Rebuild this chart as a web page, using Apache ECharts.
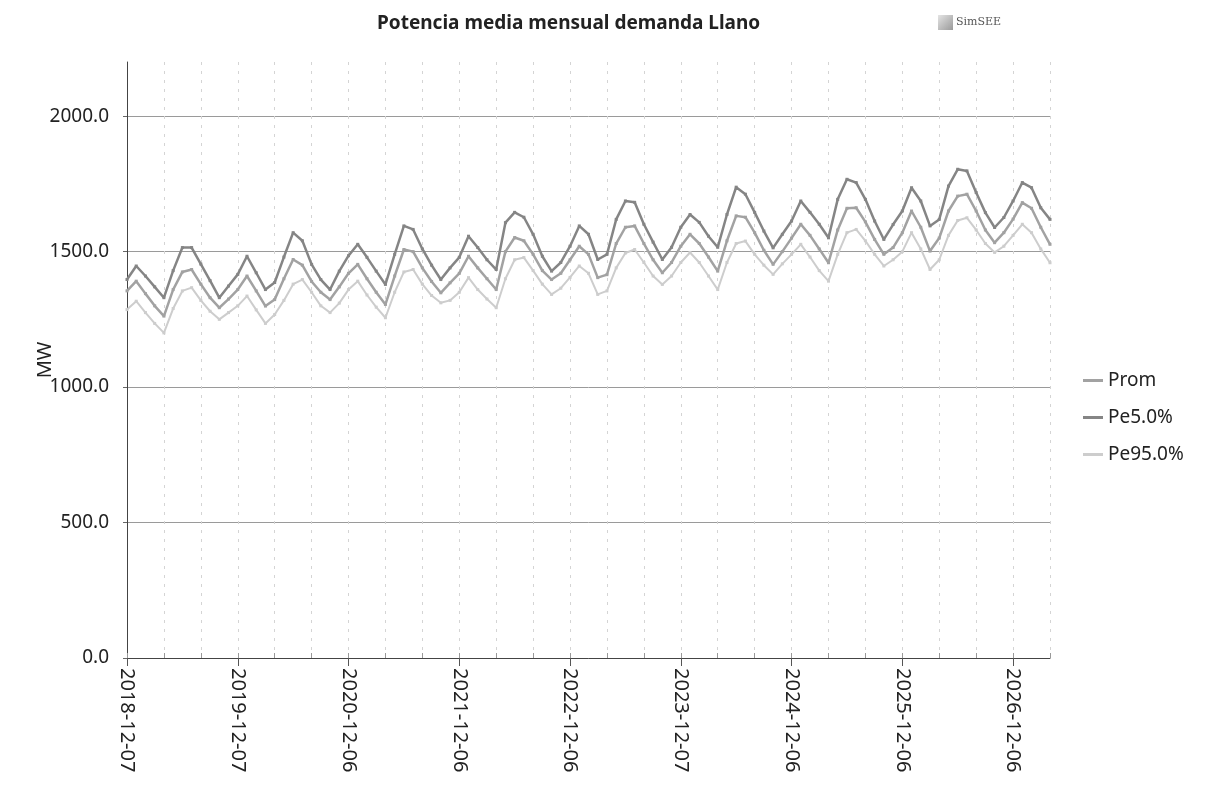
<!DOCTYPE html>
<html>
<head>
<meta charset="utf-8">
<title>Potencia media mensual demanda Llano</title>
<script src="https://cdn.jsdelivr.net/npm/echarts@6/dist/echarts.min.js"></script>
<style>
    html, body { margin: 0; padding: 0; background: #fff; }
    #chartBox { width: 1213px; height: 792px; }
</style>
</head>
<body>
<div id="chartBox"></div>
<script>
// fechas mensuales (eje x)
const fechas = [
    '2018-12-07','2019-01-07','2019-02-07','2019-03-07','2019-04-07','2019-05-07','2019-06-07','2019-07-07','2019-08-07','2019-09-07','2019-10-07','2019-11-07',
    '2019-12-07','2020-01-06','2020-02-06','2020-03-06','2020-04-06','2020-05-06','2020-06-06','2020-07-06','2020-08-06','2020-09-06','2020-10-06','2020-11-06',
    '2020-12-06','2021-01-06','2021-02-06','2021-03-06','2021-04-06','2021-05-06','2021-06-06','2021-07-06','2021-08-06','2021-09-06','2021-10-06','2021-11-06',
    '2021-12-06','2022-01-06','2022-02-06','2022-03-06','2022-04-06','2022-05-06','2022-06-06','2022-07-06','2022-08-06','2022-09-06','2022-10-06','2022-11-06',
    '2022-12-06','2023-01-07','2023-02-07','2023-03-07','2023-04-07','2023-05-07','2023-06-07','2023-07-07','2023-08-07','2023-09-07','2023-10-07','2023-11-07',
    '2023-12-07','2024-01-06','2024-02-06','2024-03-06','2024-04-06','2024-05-06','2024-06-06','2024-07-06','2024-08-06','2024-09-06','2024-10-06','2024-11-06',
    '2024-12-06','2025-01-06','2025-02-06','2025-03-06','2025-04-06','2025-05-06','2025-06-06','2025-07-06','2025-08-06','2025-09-06','2025-10-06','2025-11-06',
    '2025-12-06','2026-01-06','2026-02-06','2026-03-06','2026-04-06','2026-05-06','2026-06-06','2026-07-06','2026-08-06','2026-09-06','2026-10-06','2026-11-06',
    '2026-12-06','2027-01-06','2027-02-06','2027-03-06','2027-04-06'
];

// MW
const prom = [
    1355,1391,1345,1300,1262,1360,1425,1434,1380,1330,1293,1325,
    1360,1410,1355,1299,1323,1400,1471,1450,1390,1350,1323,1370,
    1420,1453,1400,1350,1305,1410,1508,1500,1440,1390,1348,1385,
    1420,1483,1440,1400,1360,1500,1552,1540,1490,1430,1397,1420,
    1470,1520,1490,1404,1415,1530,1590,1595,1530,1470,1422,1460,
    1520,1564,1530,1480,1428,1540,1632,1627,1570,1505,1453,1500,
    1550,1601,1560,1510,1459,1580,1660,1662,1610,1545,1490,1515,
    1570,1650,1590,1502,1550,1650,1705,1712,1650,1580,1533,1570,
    1620,1681,1660,1590,1527
];
const pe5 = [
    1397,1447,1410,1370,1330,1430,1515,1515,1454,1393,1330,1373,
    1416,1483,1422,1360,1386,1480,1570,1540,1453,1397,1360,1428,
    1485,1527,1479,1428,1379,1490,1595,1582,1510,1450,1397,1440,
    1479,1557,1515,1470,1434,1607,1645,1627,1564,1483,1428,1460,
    1520,1595,1564,1471,1490,1619,1687,1682,1601,1535,1471,1516,
    1590,1637,1608,1557,1516,1637,1738,1712,1645,1576,1514,1564,
    1613,1687,1645,1601,1551,1693,1767,1755,1693,1613,1545,1600,
    1650,1736,1687,1595,1619,1742,1804,1798,1718,1644,1589,1626,
    1687,1755,1736,1662,1619
];
const pe95 = [
    1286,1317,1275,1235,1200,1290,1355,1367,1320,1280,1250,1275,
    1300,1336,1285,1235,1268,1320,1380,1397,1350,1300,1275,1310,
    1360,1391,1340,1295,1256,1350,1425,1434,1380,1338,1311,1320,
    1350,1404,1360,1325,1293,1400,1470,1478,1430,1380,1342,1365,
    1405,1447,1420,1342,1355,1440,1495,1508,1460,1410,1379,1410,
    1460,1497,1460,1410,1360,1460,1530,1539,1490,1450,1416,1455,
    1490,1527,1480,1430,1391,1490,1570,1582,1540,1490,1447,1470,
    1500,1570,1510,1434,1470,1560,1615,1625,1580,1530,1497,1520,
    1560,1601,1570,1510,1459
];

const chartDom = document.getElementById('chartBox');
const myChart = echarts.init(chartDom);

function serie(name, data, color, width) {
    return {
        name: name,
        type: 'line',
        data: data,
        xAxisIndex: 0,
        showSymbol: true,
        showAllSymbol: true,
        symbol: 'rect',
        symbolSize: 3,
        itemStyle: { color: color },
        lineStyle: { width: width, color: color },
        emphasis: { disabled: true },
        animation: false
    };
}

const option = {
    backgroundColor: '#fff',
    textStyle: { fontFamily: 'Noto Sans' },
    title: {
        text: 'Potencia media mensual demanda Llano',
        left: 372,
        top: 9,
        textStyle: { fontSize: 19, fontWeight: 'bold', color: '#222', fontFamily: 'Noto Sans' }
    },
    graphic: [
        {
            type: 'rect',
            left: 938, top: 15,
            shape: { width: 15, height: 15 },
            style: {
                fill: new echarts.graphic.LinearGradient(0, 0, 1, 1, [
                    { offset: 0, color: '#e4e4e4' },
                    { offset: 1, color: '#9a9a9a' }
                ])
            }
        },
        {
            type: 'text',
            left: 956, top: 17,
            style: { text: 'SimSEE', font: '11px "DejaVu Serif"', fill: '#555' }
        }
    ],
    legend: {
        orient: 'vertical',
        left: 1078,
        top: 366,
        itemGap: 18,
        itemWidth: 20,
        itemHeight: 3,
        icon: 'rect',
        textStyle: { fontSize: 19, color: '#222' },
        data: ['Prom', 'Pe5.0%', 'Pe95.0%']
    },
    grid: {
        left: 127,
        right: 163,
        top: 62,
        bottom: 134
    },
    xAxis: [
        {
            type: 'category',
            data: fechas,
            boundaryGap: false,
            axisLine: { lineStyle: { color: '#444', width: 1 } },
            axisTick: { interval: 3, inside: true, length: 5, lineStyle: { color: '#999' } },
            axisLabel: {
                interval: 11,
                rotate: -90,
                fontSize: 20,
                color: '#222',
                margin: 10
            },
            splitLine: {
                show: true,
                interval: 3,
                lineStyle: { color: '#d4d4d4', type: [3, 6], width: 1 }
            }
        },
        {
            type: 'category',
            data: fechas,
            boundaryGap: false,
            position: 'bottom',
            axisLine: { show: false },
            axisTick: { interval: 11, length: 8, lineStyle: { color: '#555' } },
            axisLabel: { show: false },
            splitLine: { show: false }
        }
    ],
    yAxis: {
        type: 'value',
        min: 0,
        max: 2200,
        interval: 500,
        name: 'MW',
        nameLocation: 'middle',
        nameGap: 72,
        nameMoveOverlap: false,
        nameTextStyle: { fontSize: 20, color: '#222' },
        axisLine: { show: true, lineStyle: { color: '#444' } },
        axisTick: { show: true, length: 4, lineStyle: { color: '#666' } },
        axisLabel: {
            fontSize: 19,
            color: '#222',
            margin: 18,
            showMaxLabel: false,
            formatter: function (v) { return v % 500 === 0 ? v.toFixed(1) : ''; }
        },
        splitLine: {
            show: true,
            showMaxLine: false,
            lineStyle: { color: '#9a9a9a', width: 1 }
        }
    },
    series: [
        serie('Prom', prom, '#a2a2a2', 2.5),
        serie('Pe5.0%', pe5, '#858585', 2.5),
        serie('Pe95.0%', pe95, '#cdcdcd', 2)
    ]
};
myChart.setOption(option);
</script>
</body>
</html>
